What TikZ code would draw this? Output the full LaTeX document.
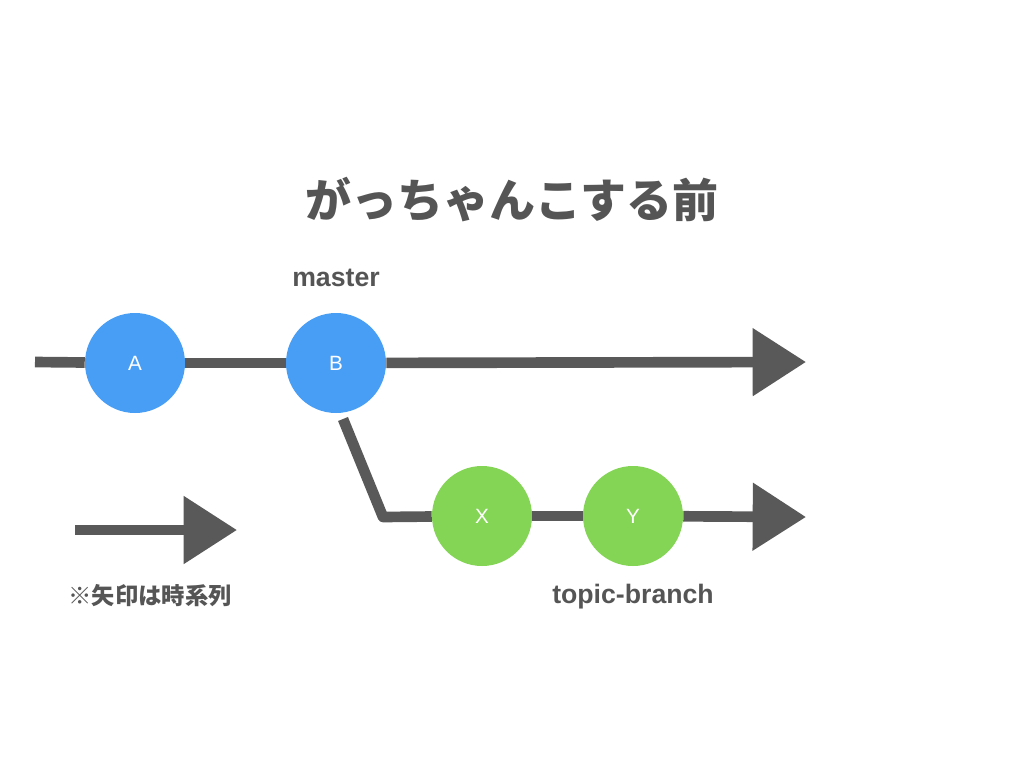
\documentclass[tikz,border=0pt]{standalone}
\usepackage{fontspec}
\setmainfont{Liberation Sans}
\newfontfamily\cjk{Noto Sans CJK JP}
\usetikzlibrary{arrows.meta}
\definecolor{ink}{HTML}{595959}
\definecolor{txt}{HTML}{555555}
\definecolor{blu}{HTML}{489EF5}
\definecolor{grn}{HTML}{84D455}
\tikzset{
  commit/.style={circle,minimum size=75pt,inner sep=0pt,text=white,font=\fontsize{15.5}{18}\selectfont},
  mastercommit/.style={commit,fill=blu},
  topiccommit/.style={commit,fill=grn},
  chalk/.style={draw=ink,line width=8pt,line join=round},
  chalkarrow/.style={chalk,-{Triangle[length=40pt,width=49pt]}},
  lbl/.style={text=txt,font=\bfseries\fontsize{20}{24}\selectfont},
}
\begin{document}
\begin{tikzpicture}[x=0.75pt,y=-0.75pt]
\useasboundingbox (0,0) rectangle (1024,768);
\node[text=txt,font=\cjk\bfseries\fontsize{34.5}{40}\selectfont] (title) at (512,200) {がっちゃんこする前};
\node[mastercommit] (A) at (135,363) {A};
\node[mastercommit] (B) at (336,363) {B};
\node[topiccommit] (X) at (482,516) {X};
\node[topiccommit] (Y) at (633,516) {Y};
\node[lbl] (master) at (336,278) {master};
\node[lbl] (topic) at (633,597) {topic-branch};
\coordinate (s) at (35,362);
\coordinate (e) at (806,362);
\coordinate (b1) at (343,419);
\coordinate (b2) at (383,517);
\coordinate (e2) at (806,517);
\draw[chalk] (s) -- (A);
\draw[chalk] (A) -- (B);
\draw[chalkarrow] (B) -- (e);
\draw[chalk] (b1) -- (b2) -- (X);
\draw[chalk] (X) -- (Y);
\draw[chalkarrow] (Y) -- (e2);
\coordinate (ls) at (75,530);
\coordinate (le) at (237,530);
\draw[chalkarrow] (ls) -- (le);
\node[text=txt,font=\cjk\bfseries\fontsize{17.5}{20}\selectfont] (legend) at (150,596) {※矢印は時系列};
\end{tikzpicture}
\end{document}
